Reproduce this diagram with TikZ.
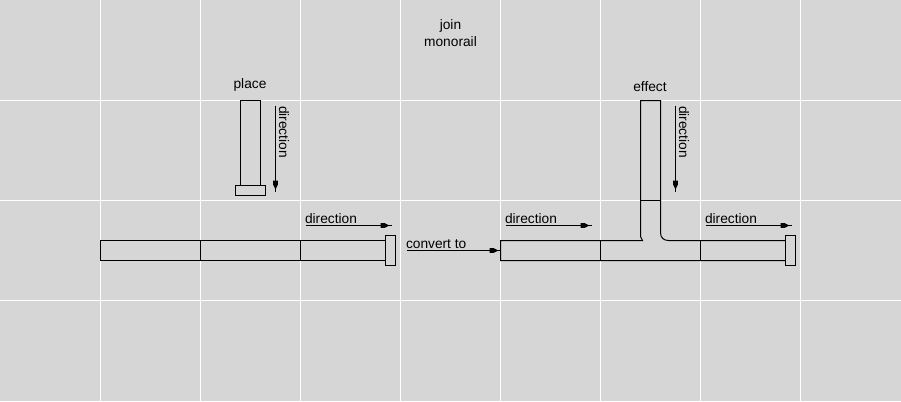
\documentclass[tikz,border=0pt]{standalone}
\usepackage{fontspec}
\setmainfont{Liberation Sans}
\tikzset{
  gridline/.style={draw=white,line width=0.75pt},
  railline/.style={draw=black,line width=0.75pt,fill=none},
  capbox/.style={draw=black,line width=0.75pt},
  dirline/.style={draw=black,line width=0.75pt},
  label/.style={inner sep=0pt,outer sep=0pt,font=\fontsize{10.3}{12}\selectfont},
  arrowhead/.pic={\fill[black] (-11,-2.4) -- (-7,-2.4) -- (-3,-0.5) -- (-3,0.5) -- (-7,2.4) -- (-11,2.4) -- cycle;}
}
\begin{document}
\begin{tikzpicture}[x=0.75pt,y=-0.75pt]
\useasboundingbox (0,0) rectangle (901,401);
\fill[fill={rgb,255:red,214;green,214;blue,214}] (0,0) rectangle (901,401);
\begin{scope}[shift={(0.5,0.5)}]
% grid
\foreach \gx in {100,200,...,800} \draw[gridline] (\gx,-1) -- (\gx,401);
\foreach \gy in {100,200,300} \draw[gridline] (-1,\gy) -- (901,\gy);
% anchors for the arrows
\coordinate (placeS) at (275,105);
\coordinate (placeE) at (275,191);
\coordinate (leftS) at (305,225);
\coordinate (leftE) at (391,225);
\coordinate (convS) at (406,250);
\coordinate (convE) at (500,250);
\coordinate (midS) at (505,225);
\coordinate (midE) at (591,225);
\coordinate (effS) at (675,105);
\coordinate (effE) at (675,191);
\coordinate (rightS) at (705,225);
\coordinate (rightE) at (791,225);
% left rail
\draw[railline] (385,240) -- (100,240) -- (100,260) -- (385,260);
\draw[railline] (200,240) -- (200,260);
\draw[railline] (300,240) -- (300,260);
\draw[capbox] (385,235) rectangle (395,265);
% place
\draw[railline] (240,185) -- (240,100) -- (260,100) -- (260,185);
\draw[capbox] (235,185) rectangle (265,195);
% T rail
\draw[railline] (785,240) -- (668,240) .. controls (663,240) and (660,237) .. (660,232)
  -- (660,100) -- (640,100) -- (640,236) -- (642,240) -- (500,240) -- (500,260) -- (785,260);
\draw[railline] (600,240) -- (600,260);
\draw[railline] (700,240) -- (700,260);
\draw[railline] (640,200) -- (660,200);
\draw[capbox] (785,235) rectangle (795,265);
% arrows
\draw[dirline] (placeS) -- (placeE) pic[rotate=-90] {arrowhead};
\draw[dirline] (effS) -- (effE) pic[rotate=-90] {arrowhead};
\draw[dirline] (leftS) -- (leftE) pic {arrowhead};
\draw[dirline] (midS) -- (midE) pic {arrowhead};
\draw[dirline] (rightS) -- (rightE) pic {arrowhead};
\draw[dirline] (convS) -- (convE) pic {arrowhead};
\end{scope}
% labels
\node[label,anchor=base] (title1) at (450.5,29) {join};
\node[label,anchor=base] (title2) at (450.5,46) {monorail};
\node[label,anchor=base] (place) at (250,88) {place};
\node[label,anchor=base] (effect) at (650,91) {effect};
\node[label,anchor=base west] (d1) at (305,223) {direction};
\node[label,anchor=base west] (d2) at (505,223) {direction};
\node[label,anchor=base west] (d3) at (705,223) {direction};
\node[label,anchor=base west] (conv) at (406,248) {convert to};
\node[label,anchor=base west,rotate=-90] (d4) at (279,106) {direction};
\node[label,anchor=base west,rotate=-90] (d5) at (679,106) {direction};
\end{tikzpicture}
\end{document}
